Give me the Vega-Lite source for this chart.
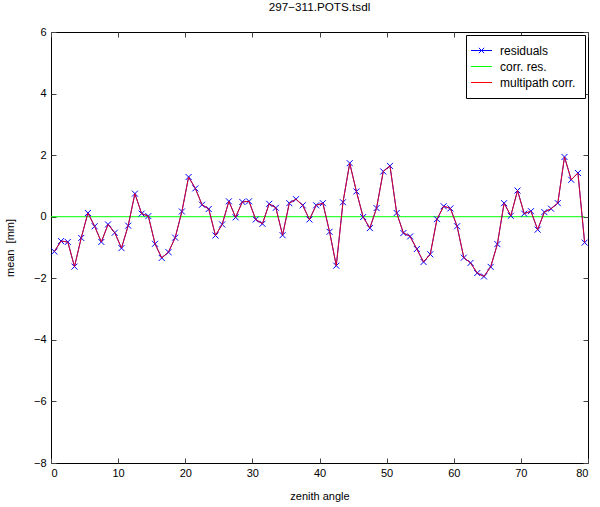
{
  "$schema": "https://vega.github.io/schema/vega-lite/v6.json",
  "width": 537,
  "height": 431,
  "autosize": "none",
  "padding": {"left": 51, "top": 32, "right": 12, "bottom": 44},
  "background": "white",
  "title": {
    "text": "297−311.POTS.tsdl",
    "font": "Liberation Sans",
    "fontSize": 11.7,
    "fontWeight": "normal",
    "anchor": "middle",
    "offset": 12
  },
  "datasets": {
    "res": [
      {"angle": 0.5, "value": -1.13}, {"angle": 1.5, "value": -0.79}, {"angle": 2.5, "value": -0.82},
      {"angle": 3.5, "value": -1.62}, {"angle": 4.5, "value": -0.69}, {"angle": 5.5, "value": 0.12},
      {"angle": 6.5, "value": -0.31}, {"angle": 7.5, "value": -0.82}, {"angle": 8.5, "value": -0.25},
      {"angle": 9.5, "value": -0.52}, {"angle": 10.5, "value": -1.02}, {"angle": 11.5, "value": -0.29},
      {"angle": 12.5, "value": 0.75}, {"angle": 13.5, "value": 0.10}, {"angle": 14.5, "value": 0.02},
      {"angle": 15.5, "value": -0.88}, {"angle": 16.5, "value": -1.34}, {"angle": 17.5, "value": -1.15},
      {"angle": 18.5, "value": -0.68}, {"angle": 19.5, "value": 0.17}, {"angle": 20.5, "value": 1.29},
      {"angle": 21.5, "value": 0.92}, {"angle": 22.5, "value": 0.39}, {"angle": 23.5, "value": 0.25},
      {"angle": 24.5, "value": -0.61}, {"angle": 25.5, "value": -0.25}, {"angle": 26.5, "value": 0.50},
      {"angle": 27.5, "value": -0.02}, {"angle": 28.5, "value": 0.48}, {"angle": 29.5, "value": 0.50},
      {"angle": 30.5, "value": -0.09}, {"angle": 31.5, "value": -0.23}, {"angle": 32.5, "value": 0.42},
      {"angle": 33.5, "value": 0.29}, {"angle": 34.5, "value": -0.60}, {"angle": 35.5, "value": 0.44},
      {"angle": 36.5, "value": 0.57}, {"angle": 37.5, "value": 0.37}, {"angle": 38.5, "value": -0.09},
      {"angle": 39.5, "value": 0.37}, {"angle": 40.5, "value": 0.44}, {"angle": 41.5, "value": -0.49},
      {"angle": 42.5, "value": -1.59}, {"angle": 43.5, "value": 0.47}, {"angle": 44.5, "value": 1.74},
      {"angle": 45.5, "value": 0.82}, {"angle": 46.5, "value": -0.01}, {"angle": 47.5, "value": -0.37},
      {"angle": 48.5, "value": 0.28}, {"angle": 49.5, "value": 1.47}, {"angle": 50.5, "value": 1.65},
      {"angle": 51.5, "value": 0.12}, {"angle": 52.5, "value": -0.53}, {"angle": 53.5, "value": -0.64},
      {"angle": 54.5, "value": -1.05}, {"angle": 55.5, "value": -1.47}, {"angle": 56.5, "value": -1.22},
      {"angle": 57.5, "value": -0.08}, {"angle": 58.5, "value": 0.34}, {"angle": 59.5, "value": 0.27},
      {"angle": 60.5, "value": -0.31}, {"angle": 61.5, "value": -1.33}, {"angle": 62.5, "value": -1.50},
      {"angle": 63.5, "value": -1.83}, {"angle": 64.5, "value": -1.94}, {"angle": 65.5, "value": -1.63},
      {"angle": 66.5, "value": -0.89}, {"angle": 67.5, "value": 0.44}, {"angle": 68.5, "value": 0.03},
      {"angle": 69.5, "value": 0.85}, {"angle": 70.5, "value": 0.10}, {"angle": 71.5, "value": 0.18},
      {"angle": 72.5, "value": -0.42}, {"angle": 73.5, "value": 0.15}, {"angle": 74.5, "value": 0.26},
      {"angle": 75.5, "value": 0.44}, {"angle": 76.5, "value": 1.94}, {"angle": 77.5, "value": 1.20},
      {"angle": 78.5, "value": 1.42}, {"angle": 79.5, "value": -0.84}
    ],
    "corr": [
      {"angle": 0, "value": 0},
      {"angle": 79.5, "value": 0}
    ]
  },
  "layer": [
    {
      "data": {"name": "corr"},
      "mark": {"type": "line", "strokeWidth": 1},
      "encoding": {
        "x": {
          "field": "angle", "type": "quantitative",
          "scale": {"domain": [0, 80], "nice": false, "zero": false},
          "axis": {"orient": "top", "labels": false, "title": null, "values": [0, 10, 20, 30, 40, 50, 60, 70, 80], "tickSize": -5}
        },
        "y": {
          "field": "value", "type": "quantitative",
          "scale": {"domain": [-8, 6], "nice": false, "zero": false},
          "axis": {"orient": "right", "labels": false, "title": null, "values": [-8, -6, -4, -2, 0, 2, 4, 6], "tickSize": -5}
        },
        "color": {"datum": "corr. res.", "type": "nominal"}
      }
    },
    {
      "data": {"name": "res"},
      "encoding": {
        "x": {
          "field": "angle", "type": "quantitative",
          "scale": {"domain": [0, 80], "nice": false, "zero": false},
          "axis": {"orient": "bottom", "title": "zenith angle", "values": [0, 10, 20, 30, 40, 50, 60, 70, 80], "tickSize": -5, "labelPadding": 9, "titlePadding": 12}
        },
        "y": {
          "field": "value", "type": "quantitative",
          "scale": {"domain": [-8, 6], "nice": false, "zero": false},
          "axis": {"orient": "left", "title": "mean\u00a0 [mm]", "values": [-8, -6, -4, -2, 0, 2, 4, 6], "tickSize": -5, "labelPadding": 10, "titlePadding": 18}
        }
      },
      "layer": [
        {
          "mark": {"type": "line", "strokeWidth": 1},
          "encoding": {
            "color": {
              "datum": "residuals", "type": "nominal",
              "scale": {"domain": ["residuals", "corr. res.", "multipath corr."], "range": ["#0000ff", "#00ff00", "#ff0000"]},
              "legend": {
                "title": null,
                "orient": "top-right",
                "offset": 3,
                "strokeColor": "black",
                "fillColor": "white",
                "padding": 9,
                "cornerRadius": 0,
                "symbolType": "stroke",
                "symbolSize": 144,
                "symbolStrokeWidth": 1,
                "labelFont": "Liberation Sans",
                "labelFontSize": 12,
                "labelOffset": 12,
                "rowPadding": 3,
                "labelLimit": 200,
                "encode": {
                  "symbols": {
                    "update": {
                      "shape": {"signal": "datum.value === 'residuals' ? 'M-1.75,0L1.75,0M-0.45,-0.45L0.45,0.45M-0.45,0.45L0.45,-0.45' : 'M-1.75,0L1.75,0'"},
                      "opacity": {"value": 1}
                    }
                  }
                }
              }
            }
          }
        },
        {
          "mark": {"type": "point", "shape": "M-1,-1L1,1M-1,1L1,-1", "filled": false, "size": 36, "strokeWidth": 1, "color": "#0000ff", "opacity": 1},
          "encoding": {}
        },
        {
          "mark": {"type": "line", "strokeWidth": 1, "strokeOpacity": 0.85},
          "encoding": {"color": {"datum": "multipath corr.", "type": "nominal"}}
        }
      ]
    }
  ],
  "resolve": {"axis": {"x": "independent", "y": "independent"}},
  "config": {
    "view": {"stroke": "black", "strokeWidth": 1},
    "axis": {
      "domain": false,
      "grid": false,
      "tickColor": "#444444",
      "labelFont": "Liberation Sans",
      "labelFontSize": 11,
      "labelColor": "black",
      "titleFont": "Liberation Sans",
      "titleFontSize": 11,
      "titleFontWeight": "normal",
      "titleColor": "black"
    }
  }
}
